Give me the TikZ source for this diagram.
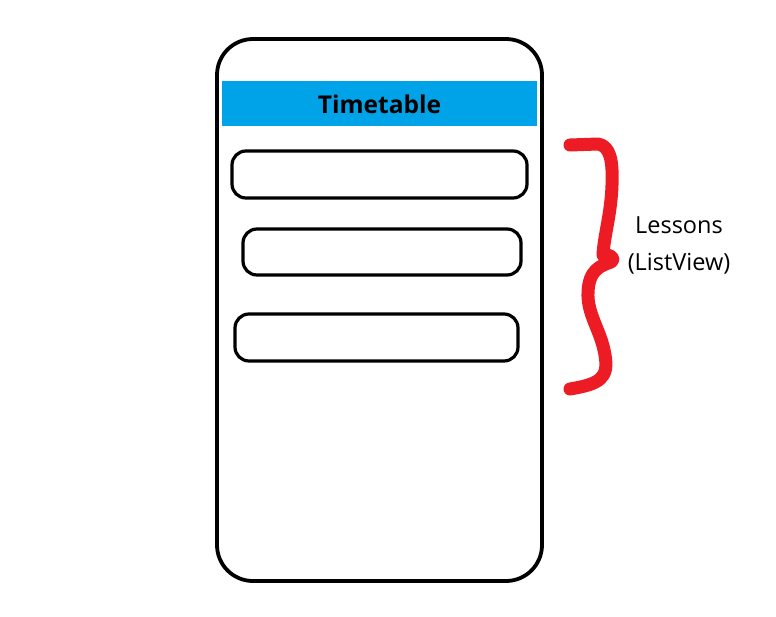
\documentclass[tikz,border=0pt]{standalone}
\usepackage{fontspec}
\setmainfont{Open Sans}
\begin{document}
\begin{tikzpicture}[x=1pt,y=-1pt,
  frame/.style={draw=black,line width=3.8pt,rounded corners=36pt},
  item/.style={draw=black,line width=3.2pt,rounded corners=14pt,fill=white},
  header/.style={fill=headblue,draw=none},
  bracestroke/.style={draw=braceRed,line width=13pt,line cap=round,line join=round}]
\definecolor{headblue}{HTML}{00A2E8}
\definecolor{braceRed}{HTML}{ED1C24}
\useasboundingbox (0,0) rectangle (776,616);
% phone outline
\draw[frame] (217,39) rectangle (542,581);
% title bar
\fill[header] (222,81) rectangle (537,126);
\node[font=\bfseries\fontsize{24.5}{29}\selectfont] (title) at (379.5,104) {Timetable};
% list items
\draw[item] (232,151) rectangle (527,198);
\draw[item] (243,229) rectangle (521,275);
\draw[item] (235,314) rectangle (518,361);
% hand-drawn brace
\draw[bracestroke] (570,145) -- (598,144)
  .. controls (610,146) and (613,160) .. (612,185)
  .. controls (611,215) and (604,235) .. (603,255)
  .. controls (610,254) and (616,258) .. (611,262)
  .. controls (600,266) and (589,270) .. (588,292)
  .. controls (587,315) and (601,330) .. (605,355)
  .. controls (609,378) and (600,384) .. (570,389);
% label
\node[font=\fontsize{23.5}{37}\selectfont,align=center] (lbl) at (679,245) {Lessons\\(ListView)};
\end{tikzpicture}
\end{document}
